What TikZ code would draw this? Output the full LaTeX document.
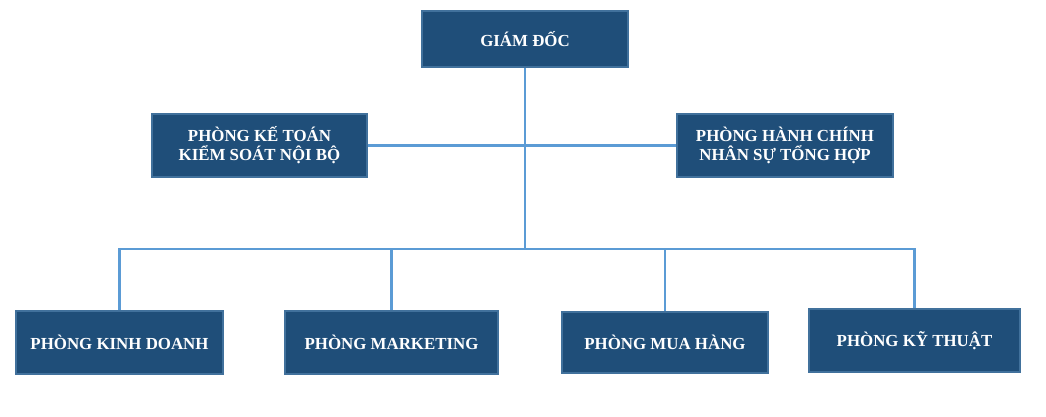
\documentclass[tikz,border=0pt]{standalone}
\usepackage{fontspec}
\setmainfont{Liberation Serif}
\usetikzlibrary{positioning}
\definecolor{box_fill}{RGB}{31, 78, 121}
\definecolor{box_edge}{RGB}{65, 113, 156}
\definecolor{link_colour}{RGB}{91, 155, 213}

\begin{document}
\begin{tikzpicture}[
    every node/.style={font=\fontsize{12}{13.6}\selectfont\bfseries},
    unit/.style={draw=box_edge, line width=0.8pt, fill=box_fill, text=white,
                minimum width=5.2cm, minimum height=1.575cm,
                align=center, inner sep=2pt},
    link/.style={draw=link_colour, line width=1.5pt},
]
\useasboundingbox (0,0) rectangle (26.15,10.425);

\node[unit, minimum width=5.15cm, minimum height=1.4cm] (gd) at (13.125, 9.45) {GIÁM ĐỐC};
\node[unit, minimum width=5.375cm] (ketoan)  at (6.4875, 6.7875) {PHÒNG KẾ TOÁN\\KIỂM SOÁT NỘI BỘ};
\node[unit, minimum width=5.4cm]   (hanhchinh) at (19.625, 6.7875) {PHÒNG HÀNH CHÍNH\\NHÂN SỰ TỔNG HỢP};

\node[unit, minimum width=5.175cm] (kinhdoanh) at (2.9875, 1.8625) {PHÒNG KINH DOANH};
\node[unit, minimum width=5.325cm] (marketing) at (9.7875, 1.8625) {PHÒNG MARKETING};
\node[unit, minimum width=5.15cm, minimum height=1.525cm] (muahang) at (16.625, 1.8625) {PHÒNG MUA HÀNG};
\node[unit, minimum width=5.275cm] (kythuat)   at (22.8625, 1.9125) {PHÒNG KỸ THUẬT};

\coordinate (bus) at (13.125, 4.2);

\draw[link] (gd.south) -- (bus);
\draw[link] (ketoan.east) -- (hanhchinh.west);
\draw[link] (kinhdoanh.north) |- (bus) -| (kythuat.north);
\draw[link] (marketing.north) -- (marketing |- bus);
\draw[link] (muahang.north) -- (muahang |- bus);
\end{tikzpicture}
\end{document}
